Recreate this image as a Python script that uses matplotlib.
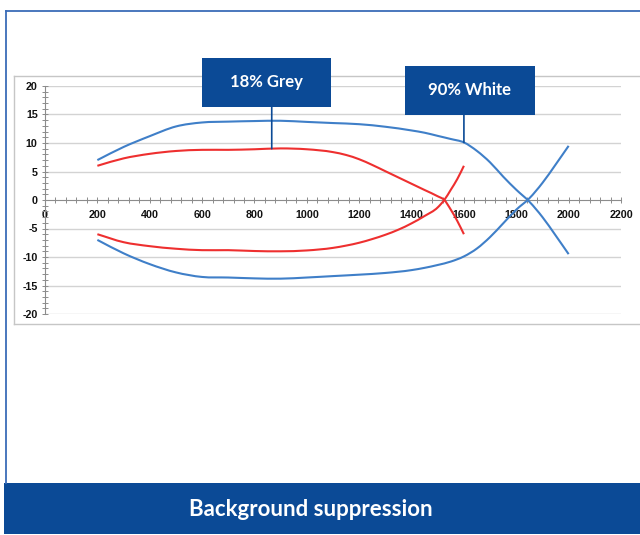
import numpy as np
import matplotlib
matplotlib.use("Agg")
import matplotlib.pyplot as plt
from matplotlib.patches import Rectangle, ConnectionPatch, PathPatch
from matplotlib.lines import Line2D
from matplotlib.path import Path
from matplotlib.ticker import MultipleLocator
from matplotlib import transforms

# ---------------- data ----------------
x_red = [200, 300, 400, 500, 600, 700, 800, 900, 1000, 1100, 1150, 1200, 1250,
         1300, 1350, 1400, 1450, 1500, 1525, 1550, 1575, 1600]
grey_upper = [6.0, 7.3, 8.1, 8.6, 8.8, 8.8, 8.9, 9.05, 8.9, 8.4, 7.9, 7.15, 6.15,
              5.05, 3.95, 2.85, 1.75, 0.65, 0.0, -1.7, -3.7, -6.0]
grey_lower = [-6.0, -7.4, -8.1, -8.55, -8.8, -8.8, -8.95, -9.0, -8.85, -8.4, -8.0,
              -7.5, -6.85, -6.1, -5.2, -4.1, -2.8, -1.3, 0.0, 1.8, 3.7, 6.0]

x_blue = [200, 300, 400, 500, 600, 700, 800, 900, 1000, 1100, 1200, 1300, 1400,
          1450, 1500, 1550, 1600, 1650, 1700, 1750, 1800, 1850, 1900, 1950, 2000]
white_upper = [7.0, 9.3, 11.2, 12.9, 13.6, 13.75, 13.85, 13.9, 13.7, 13.5, 13.3,
               12.85, 12.2, 11.8, 11.25, 10.7, 10.1, 8.6, 6.6, 4.1, 1.8, -0.3,
               -3.0, -6.2, -9.5]
white_lower = [-7.0, -9.35, -11.25, -12.7, -13.5, -13.6, -13.75, -13.8, -13.6, -13.35,
               -13.1, -12.8, -12.3, -11.9, -11.4, -10.8, -9.9, -8.5, -6.5, -4.1,
               -1.7, 0.3, 3.0, 6.2, 9.5]

x_ticks = [0, 200, 400, 600, 800, 1000, 1200, 1400, 1600, 1800, 2000, 2200]
y_ticks = [-20, -15, -10, -5, 0, 5, 10, 15, 20]
label_grey = "18% Grey"
label_white = "90% White"
title = "Background suppression"
grey_anchor_x = 866
white_anchor_x = 1600

# ---------------- style ----------------
W, H = 640, 535
BLUE_DARK = "#0b4a96"
FRAME_BLUE = "#3a6cb8"
LINE_BLUE = "#3f7fc8"
LINE_RED = "#ee2f2f"
GRID = "#d3d3d3"
AXIS = "#8c8c8c"

fig = plt.figure(figsize=(W / 100, H / 100), dpi=100)
fig.patch.set_facecolor("white")


def fx(px):
    return px / W


def fy(py):
    return 1 - py / H


# outer blue frame (left + top)
fig.add_artist(Line2D([fx(5.5), fx(5.5)], [fy(11), fy(483)], color=FRAME_BLUE, lw=1.3,
                      transform=fig.transFigure))
fig.add_artist(Line2D([fx(5.5), fx(640)], [fy(11), fy(11)], color=FRAME_BLUE, lw=1.3,
                      transform=fig.transFigure))

# inner chart border (grey)
for xs, ys in [([13.5, 13.5], [76, 324]), ([13.5, 640], [76, 76]), ([13.5, 640], [324, 324])]:
    fig.add_artist(Line2D([fx(v) for v in xs], [fy(v) for v in ys], color="#c6c6c6",
                          lw=1.0, transform=fig.transFigure))

# bottom title band
fig.add_artist(Rectangle((fx(4), fy(534)), fx(640) - fx(4), fy(483) - fy(534),
                         transform=fig.transFigure, facecolor=BLUE_DARK, edgecolor="none"))
fig.text(fx(311), fy(510), title, color="white", fontsize=16, fontweight="bold",
         family=["Lato", "DejaVu Sans"], ha="center", va="center")

# axes
ax = fig.add_axes([fx(45), fy(314), fx(621) - fx(45), fy(86) - fy(314)])
ax.set_facecolor("none")
ax.set_xlim(0, 2200)
ax.set_ylim(-20, 20)

for y in y_ticks:
    if y != 0:
        ax.axhline(y, color=GRID, lw=1.0, zorder=0)

for s in ["top", "right"]:
    ax.spines[s].set_visible(False)
ax.spines["bottom"].set_position(("data", 0))
ax.spines["left"].set_position(("data", 0))
for s in ["bottom", "left"]:
    ax.spines[s].set_color(AXIS)
    ax.spines[s].set_linewidth(0.8)

ax.set_xticks(x_ticks)
ax.set_xticklabels([str(v) for v in x_ticks])
ax.xaxis.set_minor_locator(MultipleLocator(40))
ax.set_yticks(y_ticks)
ax.set_yticklabels([str(v) for v in y_ticks])
ax.yaxis.set_minor_locator(MultipleLocator(1))

ax.tick_params(axis="x", which="both", direction="inout", length=4.5, width=0.7,
               color=AXIS, pad=5)
ax.tick_params(axis="y", which="both", direction="inout", length=4.5, width=0.7,
               color=AXIS, pad=3)
for lab in ax.get_xticklabels() + ax.get_yticklabels():
    lab.set_fontsize(7.7)
    lab.set_fontweight("bold")
    lab.set_family(["Liberation Sans", "DejaVu Sans"])
    lab.set_color("#111111")


# smoothed line rendering (cubic Hermite through the data points, drawn as Bezier path)
def smooth_line(xs, ys, color):
    x = np.asarray(xs, float)
    y = np.asarray(ys, float)
    n = len(x)
    m = np.empty(n)
    m[0] = (y[1] - y[0]) / (x[1] - x[0])
    m[-1] = (y[-1] - y[-2]) / (x[-1] - x[-2])
    for i in range(1, n - 1):
        h0 = x[i] - x[i - 1]
        h1 = x[i + 1] - x[i]
        d0 = (y[i] - y[i - 1]) / h0
        d1 = (y[i + 1] - y[i]) / h1
        m[i] = (h1 * d0 + h0 * d1) / (h0 + h1)
    verts = [(x[0], y[0])]
    codes = [Path.MOVETO]
    for i in range(n - 1):
        h = x[i + 1] - x[i]
        verts += [(x[i] + h / 3, y[i] + m[i] * h / 3),
                  (x[i + 1] - h / 3, y[i + 1] - m[i + 1] * h / 3),
                  (x[i + 1], y[i + 1])]
        codes += [Path.CURVE4] * 3
    patch = PathPatch(Path(verts, codes), facecolor="none", edgecolor=color,
                      lw=1.5, zorder=3, capstyle="butt")
    ax.add_patch(patch)


smooth_line(x_blue, white_upper, LINE_BLUE)
smooth_line(x_blue, white_lower, LINE_BLUE)
smooth_line(x_red, grey_upper, LINE_RED)
smooth_line(x_red, grey_lower, LINE_RED)


# label boxes with connectors
def label_box(text, left, top, right, bottom, anchor_x, anchor_y):
    fig.add_artist(Rectangle((fx(left), fy(bottom)), fx(right) - fx(left), fy(top) - fy(bottom),
                             transform=fig.transFigure, facecolor=BLUE_DARK,
                             edgecolor="none", zorder=5))
    fig.text(fx((left + right) / 2), fy((top + bottom) / 2), text, color="white",
             fontsize=12, fontweight="bold", family=["Lato", "DejaVu Sans"],
             ha="center", va="center", zorder=6)
    trans = transforms.blended_transform_factory(ax.transData, fig.transFigure)
    con = ConnectionPatch(xyA=(anchor_x, anchor_y), coordsA=ax.transData,
                          xyB=(anchor_x, fy(bottom)), coordsB=trans,
                          color=BLUE_DARK, lw=1.2, zorder=4)
    fig.add_artist(con)


label_box(label_grey, 202, 58, 331, 107, grey_anchor_x,
          float(np.interp(grey_anchor_x, x_red, grey_upper)))
label_box(label_white, 405, 66, 535, 114.5, white_anchor_x,
          float(np.interp(white_anchor_x, x_blue, white_upper)))

fig.savefig("out.png", dpi=100)
